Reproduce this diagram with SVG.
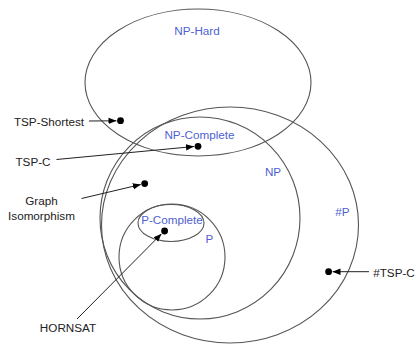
<svg xmlns="http://www.w3.org/2000/svg" width="417" height="345" viewBox="0 0 417 345">
<style>
.set{fill:none;stroke:#555;stroke-width:1.1}
.bl{font-family:"Liberation Sans",Arial,sans-serif;font-size:11.7px;fill:#4f5fd1;text-anchor:middle}
.lb{font-family:"Liberation Sans",Arial,sans-serif;font-size:11.7px;fill:#222;text-anchor:middle}
.dot{fill:#000}
.ar{stroke:#222;stroke-width:1;fill:none;marker-end:url(#ah)}
</style>
<defs>
<marker id="ah" viewBox="0 0 10 10" refX="10" refY="5" markerWidth="8" markerHeight="8" markerUnits="userSpaceOnUse" orient="auto">
<path d="M0,1 L10,5 L0,9 z" fill="#000"/>
</marker>
</defs>
<g id="NP-Hard"><ellipse class="set" cx="198" cy="82.5" rx="113" ry="73.5"/><text class="bl" x="197" y="35">NP-Hard</text></g>
<g id="SharpP"><ellipse class="set" cx="230" cy="225" rx="128.5" ry="118"/><text class="bl" x="342.5" y="216">#P</text></g>
<g id="NP"><ellipse class="set" cx="200" cy="218" rx="100" ry="101"/><text class="bl" x="273" y="176">NP</text></g>
<g id="NP-Complete"><text class="bl" x="199.5" y="138.5">NP-Complete</text></g>
<g id="P"><ellipse class="set" cx="172" cy="257" rx="53" ry="53"/><text class="bl" x="209.5" y="243">P</text></g>
<g id="P-Complete"><ellipse class="set" cx="171" cy="223" rx="33" ry="18.5"/><text class="bl" x="172" y="223.5">P-Complete</text></g>
<g id="TSP-Shortest"><text class="lb" x="49" y="126">TSP-Shortest</text><circle class="dot" cx="120.5" cy="120.7" r="3.4"/></g>
<g id="TSP-C"><text class="lb" x="33" y="166">TSP-C</text><circle class="dot" cx="198" cy="146.3" r="3.4"/></g>
<g id="Graph-Isomorphism"><text class="lb" x="41.5" y="205">Graph</text><text class="lb" x="41.5" y="219.5">Isomorphism</text><circle class="dot" cx="144.7" cy="183.6" r="3.4"/></g>
<g id="HORNSAT"><text class="lb" x="68" y="331.5">HORNSAT</text><circle class="dot" cx="164.6" cy="231" r="3.4"/></g>
<g id="SharpTSP-C"><text class="lb" x="394" y="276.5">#TSP-C</text><circle class="dot" cx="328.6" cy="271.7" r="3.4"/></g>
<g id="connectors">
<line class="ar" x1="89" y1="121" x2="116.5" y2="120.8"/>
<line class="ar" x1="56.5" y1="159.5" x2="194" y2="146.5"/>
<line class="ar" x1="81.5" y1="198.5" x2="140.8" y2="184.5"/>
<line class="ar" x1="77" y1="319" x2="161.5" y2="233.8"/>
<line class="ar" x1="369" y1="271.7" x2="332.5" y2="271.7"/>
</g>
</svg>
